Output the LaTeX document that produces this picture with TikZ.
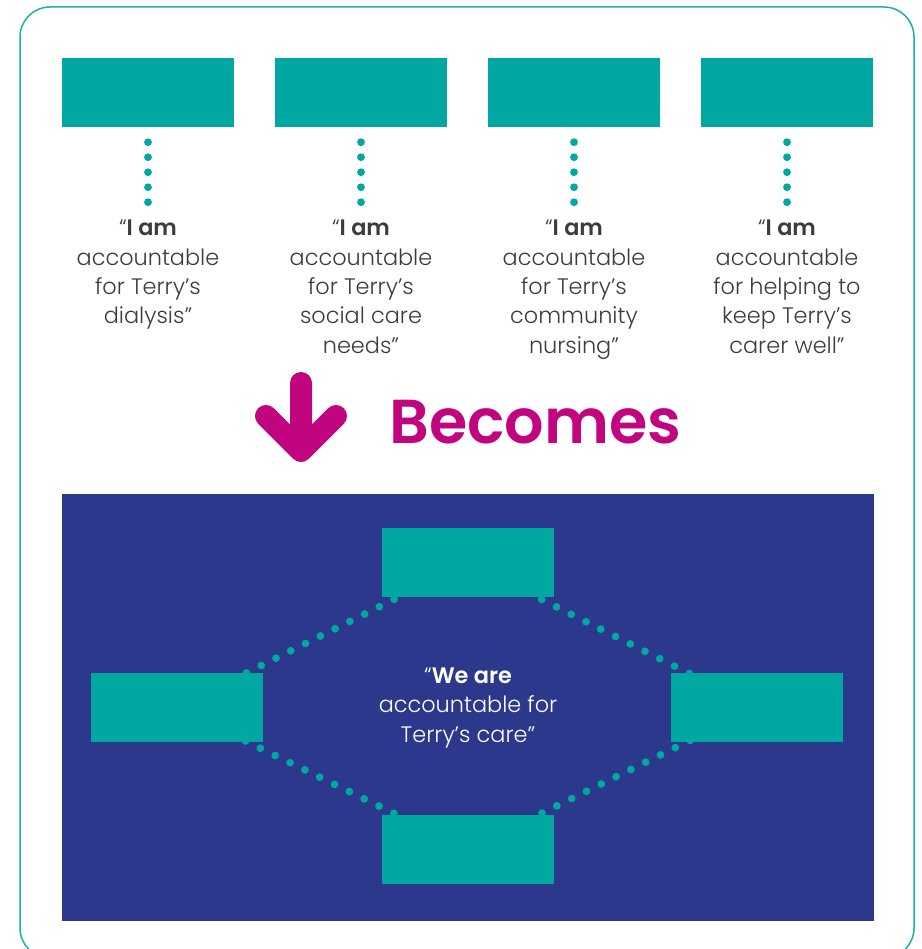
\documentclass[tikz,border=0pt]{standalone}
\usepackage{fontspec}
\setmainfont{Poppins}[UprightFont=* Light, BoldFont=* SemiBold]
\newfontfamily\headfont{Poppins}[UprightFont=* SemiBold]
\usetikzlibrary{backgrounds}

\definecolor{teal}{HTML}{00A8A1}
\definecolor{navy}{HTML}{2C388B}
\definecolor{magenta}{HTML}{C1057F}
\definecolor{inkgrey}{HTML}{3C3C3C}

\begin{document}
\begin{tikzpicture}[
  x=1pt, y=-1pt,
  role/.style={
    fill=teal,
    minimum width=172pt,
    minimum height=69pt,
    inner sep=0pt
  },
  say/.style={
    align=center,
    anchor=north,
    inner sep=0pt,
    text=inkgrey,
    font=\fontsize{22.4}{29.3}\selectfont
  },
  hubsay/.style={
    align=center,
    inner sep=0pt,
    text=white,
    font=\fontsize{22.4}{29.3}\selectfont
  },
  dotline/.style={draw=teal, line width=7.8pt, line cap=round},
  tick/.style={dotline, dash pattern=on 0pt off 15pt, shorten <=15pt, shorten >=17pt},
  link/.style={dotline, dash pattern=on 0pt off 16.5pt}
]
  \clip (0,0) rectangle (921,949);
  \draw[teal!90!white, line width=1.5pt, rounded corners=30pt] (20,7) rectangle (914,958);

  \node[role] (role1) at (148,92.5) {};
  \node[role] (role2) at (361,92.5) {};
  \node[role] (role3) at (574,92.5) {};
  \node[role] (role4) at (787,92.5) {};

  \node[say] (say1) at (148,220) {“\textbf{I am}\\accountable\\for Terry’s\\dialysis”};
  \node[say] (say2) at (361,220) {“\textbf{I am}\\accountable\\for Terry’s\\social care\\needs”};
  \node[say] (say3) at (574,220) {“\textbf{I am}\\accountable\\for Terry’s\\community\\nursing”};
  \node[say] (say4) at (787,220) {“\textbf{I am}\\accountable\\for helping to\\keep Terry’s\\carer well”};

  \foreach \i in {1,...,4}
    \draw[tick] (role\i.south) -- (say\i.north);

  \draw[magenta, line width=22pt, line cap=round, line join=round]
    (301,383) -- (301,450)
    (266,416) -- (301,451) -- (336,416);
  \node[anchor=base west, inner sep=0pt, text=magenta, font=\headfont\fontsize{62}{62}\selectfont]
    (becomes) at (389,443) {Becomes};

  \node[role] (hubtop) at (468,562.5) {};
  \node[role] (hubleft) at (177,707.5) {};
  \node[role] (hubright) at (757,707.5) {};
  \node[role] (hubbottom) at (468,849.5) {};

  \node[hubsay] (we) at (468,708) {“\textbf{We are}\\accountable for\\Terry’s care”};

  \begin{scope}[on background layer]
    \fill[navy] (62,494) rectangle (874,921);
    \draw[link] (hubtop.center) -- (hubleft.center);
    \draw[link] (hubtop.center) -- (hubright.center);
    \draw[link] (hubbottom.center) -- (hubleft.center);
    \draw[link] (hubbottom.center) -- (hubright.center);
  \end{scope}
\end{tikzpicture}
\end{document}
